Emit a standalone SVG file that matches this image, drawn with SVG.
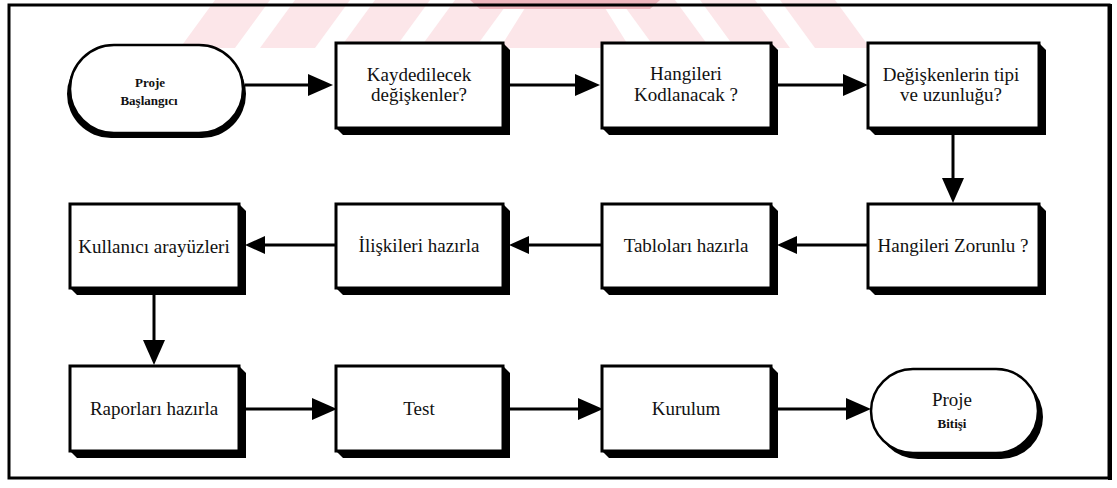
<svg xmlns="http://www.w3.org/2000/svg" width="1117" height="488" viewBox="0 0 1117 488">
  <style>
    .lbl { font-family: "Liberation Serif", "Times New Roman", serif; font-size: 19px; fill: #111; text-anchor: middle; }
    .sm { font-family: "Liberation Serif", "Times New Roman", serif; font-size: 13px; font-weight: bold; fill: #111; text-anchor: middle; }
    .box { fill: #fff; stroke: #000; stroke-width: 3; }
    .shadow { fill: #000; }
    .term { fill: #fff; stroke: #000; stroke-width: 2.5; }
    .wire { fill: none; stroke: #000; stroke-width: 3; }
    .wm { fill: #fce6e9; }
  </style>
  <defs>
    <marker id="head" markerUnits="userSpaceOnUse" markerWidth="25" markerHeight="22" viewBox="0 0 25 22" refX="0" refY="11" orient="auto">
      <polygon points="0,0 25,11 0,22" fill="#000"/>
    </marker>
    <marker id="headS" markerUnits="userSpaceOnUse" markerWidth="20" markerHeight="18" viewBox="0 0 20 18" refX="0" refY="9" orient="auto">
      <polygon points="0,0 20,9 0,18" fill="#000"/>
    </marker>
    <clipPath id="wmClip">
      <rect x="150" y="0" width="760" height="48"/>
    </clipPath>
  </defs>

  <rect width="1117" height="488" fill="#fff"/>

  <!-- faint stripe emblem along the top edge -->
  <g id="emblem" clip-path="url(#wmClip)">
    <polygon class="wm" points="180,48 235,48 270,0 215,0"/>
    <polygon class="wm" points="260,48 315,48 350,0 295,0"/>
    <polygon class="wm" points="340,48 395,48 430,0 375,0"/>
    <polygon class="wm" points="420,48 475,48 510,0 455,0"/>
    <polygon class="wm" points="500,48 630,48 600,0 530,0"/>
    <polygon class="wm" points="655,48 710,48 675,0 620,0"/>
    <polygon class="wm" points="735,48 790,48 755,0 700,0"/>
    <polygon class="wm" points="815,48 870,48 835,0 780,0"/>
    <polygon fill="#efb7be" points="470,0 660,0 650,9 480,9"/>
  </g>

  <!-- outer frame -->
  <g id="frame">
    <rect x="9" y="5" width="1100" height="473" fill="none" stroke="#000" stroke-width="3"/>
    <line x1="1110" y1="4" x2="1110" y2="480" stroke="#000" stroke-width="4"/>
  </g>

  <!-- connectors -->
  <g id="connectors">
    <path class="wire" d="M245 85 H308" marker-end="url(#head)"/>
    <path class="wire" d="M509 85 H575" marker-end="url(#head)"/>
    <path class="wire" d="M777 85 H843" marker-end="url(#head)"/>
    <path class="wire" d="M953 135 V178" marker-end="url(#head)"/>
    <path class="wire" d="M868 245 H797" marker-end="url(#headS)"/>
    <path class="wire" d="M602 245 H529" marker-end="url(#headS)"/>
    <path class="wire" d="M336 245 H265" marker-end="url(#headS)"/>
    <path class="wire" d="M154 295 V340" marker-end="url(#head)"/>
    <path class="wire" d="M245 409 H312" marker-end="url(#head)"/>
    <path class="wire" d="M510 409 H578" marker-end="url(#head)"/>
    <path class="wire" d="M777 409 H846" marker-end="url(#head)"/>
  </g>

  <!-- row 1 -->
  <g id="start">
    <rect class="shadow" x="67" y="50" width="179" height="88" rx="44"/>
    <rect class="term" x="70" y="45" width="173" height="88" rx="44"/>
    <text class="sm" x="150" y="87">Proje</text>
    <text class="sm" x="149" y="105">Başlangıcı</text>
  </g>

  <g id="kaydedilecek">
    <polygon class="shadow" points="503,43 510,50 510,135 343,135 336,128"/>
    <rect class="box" x="336" y="43" width="167" height="85"/>
    <text class="lbl" x="419" y="81">Kaydedilecek</text>
    <text class="lbl" x="419" y="101">değişkenler?</text>
  </g>

  <g id="kodlanacak">
    <polygon class="shadow" points="771,43 778,50 778,135 609,135 602,128"/>
    <rect class="box" x="602" y="43" width="169" height="85"/>
    <text class="lbl" x="686" y="80">Hangileri</text>
    <text class="lbl" x="686" y="101">Kodlanacak ?</text>
  </g>

  <g id="tip-uzunluk">
    <polygon class="shadow" points="1039,43 1046,50 1046,135 875,135 868,128"/>
    <rect class="box" x="868" y="43" width="171" height="85"/>
    <text class="lbl" x="951" y="81">Değişkenlerin tipi</text>
    <text class="lbl" x="951" y="101">ve uzunluğu?</text>
  </g>

  <!-- row 2 -->
  <g id="zorunlu">
    <polygon class="shadow" points="1039,204 1046,211 1046,295 875,295 868,288"/>
    <rect class="box" x="868" y="204" width="171" height="84"/>
    <text class="lbl" x="953" y="252">Hangileri Zorunlu ?</text>
  </g>

  <g id="tablolar">
    <polygon class="shadow" points="771,204 778,211 778,295 609,295 602,288"/>
    <rect class="box" x="602" y="204" width="169" height="84"/>
    <text class="lbl" x="686" y="252">Tabloları hazırla</text>
  </g>

  <g id="iliskiler">
    <polygon class="shadow" points="503,204 510,211 510,295 343,295 336,288"/>
    <rect class="box" x="336" y="204" width="167" height="84"/>
    <text class="lbl" x="419" y="252">İlişkileri hazırla</text>
  </g>

  <g id="arayuzler">
    <polygon class="shadow" points="239,204 246,211 246,295 77,295 70,288"/>
    <rect class="box" x="70" y="204" width="169" height="84"/>
    <text class="lbl" x="154" y="253">Kullanıcı arayüzleri</text>
  </g>

  <!-- row 3 -->
  <g id="raporlar">
    <polygon class="shadow" points="239,366 246,373 246,458 77,458 70,451"/>
    <rect class="box" x="70" y="366" width="169" height="85"/>
    <text class="lbl" x="154" y="415">Raporları hazırla</text>
  </g>

  <g id="test">
    <polygon class="shadow" points="503,366 510,373 510,458 343,458 336,451"/>
    <rect class="box" x="336" y="366" width="167" height="85"/>
    <text class="lbl" x="419" y="415">Test</text>
  </g>

  <g id="kurulum">
    <polygon class="shadow" points="771,366 778,373 778,458 609,458 602,451"/>
    <rect class="box" x="602" y="366" width="169" height="85"/>
    <text class="lbl" x="686" y="415">Kurulum</text>
  </g>

  <g id="bitis">
    <rect class="shadow" x="876" y="375" width="167" height="84" rx="42"/>
    <rect class="term" x="871" y="369" width="167" height="84" rx="42"/>
    <text class="lbl" x="952" y="406">Proje</text>
    <text class="sm" x="952" y="428">Bitişi</text>
  </g>
</svg>
